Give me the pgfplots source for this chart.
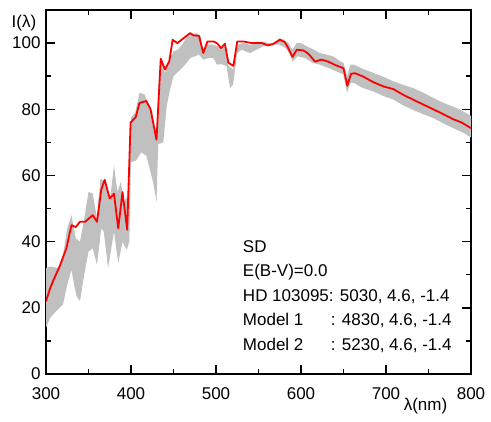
\documentclass[border=0pt]{standalone}
\usepackage{pgfplots}
\pgfplotsset{compat=1.18}
\usepgfplotslibrary{fillbetween}
\usepackage{fontspec}
\setmainfont{Liberation Sans}
\definecolor{bandgray}{RGB}{192,192,192}
\begin{document}
\begin{tikzpicture}
\begin{axis}[
  scale only axis, width=425pt, height=364pt,
  xmin=300, xmax=800, ymin=0, ymax=110,
  xtick={300,400,...,800}, minor xtick={350,450,...,750},
  ytick={0,20,...,100}, minor ytick={10,30,...,90},
  tick align=inside, major tick length=9pt, minor tick length=5pt,
  axis line style={line width=1.5pt},
  tick style={line width=1.5pt, black},
  /pgf/number format/assume math mode=true,
  tick label style={font=\fontsize{17}{17}\selectfont},
  xticklabel style={yshift=-10pt},
  yticklabel style={xshift=-2pt},
  clip mode=individual,
]
\addplot[name path=up, draw=none, forget plot] coordinates {
(300,32)(305,32.5)(315,32)(320,36)(325,44)(330,48)(335,41)(340,40)(345,47)(350,55)(355,54.5)(360,47)(364,59)(370,58)(375,52)(380,63)(384,55)(388,58)(392,52)(396,54)(398,60)(400,77.5)(405,79)(410,85)(416,84.5)(420,82)(425,79)(430,72)(433,90)(436,95)(440,91)(445,95)(450,97.5)(455,98)(460,99.5)(465,101.5)(470,102.5)(477,103)(482,102)(485,96.5)(490,99.5)(497,99.5)(502,99)(507,98.5)(511,99)(515,93)(520,92)(525,99.5)(532,100)(540,99.5)(550,100)(555,100.5)(562,100)(568,100)(575,101.5)(580,101)(585,100)(590,98)(595,100)(600,100)(607,99)(615,98)(622,97)(630,96.5)(638,96)(646,94.5)(650,94)(654,90)(658,93.5)(662,93.5)(672,92.3)(685,91)(697,89.8)(709,88.4)(720,87.4)(732,86.4)(744,85)(756,83.4)(767,82)(779,80.8)(790,79.5)(800,78)
};
\addplot[name path=lo, draw=none, forget plot] coordinates {
(300,14)(305,17)(312,19)(320,21)(325,27)(330,31.5)(333,27)(336,23.5)(340,22)(345,30)(350,37)(355,38)(360,33)(365,44)(368,43)(373,32)(380,43)(385,33.5)(390,40)(395,37.5)(398,40)(400,64)(406,64.5)(412,67)(418,66)(422,62)(426,58)(430,52)(432,69.5)(438,70)(442,81)(446,86)(450,90)(456,91.5)(462,93)(470,95.5)(480,96.5)(485,95)(492,95.5)(497,95.5)(501,93.5)(507,93.6)(512.5,93)(516.5,86.4)(520,87.4)(525,97)(530,98)(540,97)(548,98)(555,99)(565,99.5)(575,99.5)(582,98.5)(586,97)(590,94.5)(596,96)(605,95.5)(614,94)(622,93.5)(632,92.5)(642,91.4)(650,90.5)(654,85)(658,88)(662,88)(672,86.5)(685,85.4)(697,84)(709,82.9)(720,81.2)(732,79.8)(744,78.5)(756,77.3)(767,75.8)(779,74.3)(790,73)(800,71.5)
};
\addplot[fill=bandgray, draw=none] fill between[of=up and lo];
\addplot[red, line width=1.8pt, line join=round] coordinates {
(300,22)(305,26)(309,28.5)(316,32.5)(324,38)(330,45)(335,44.4)(340,46)(346,46)(355,48)(360,46)(365,55.7)(369,58.7)(375,53)(380,54.5)(385,44)(390,55)(395.5,43.6)(399.5,76)(405.5,77.6)(410,81.9)(418,82.5)(423,80)(430,70.8)(435,95.3)(440,92)(445,94.5)(449,101)(454.5,100)(469.5,103)(474,102.3)(480,102.2)(485,97)(490,100.5)(497,100.5)(501,100)(506,98.5)(510.5,99.8)(514.5,94.1)(520.5,93.1)(525,100.5)(532,100.5)(542,100)(554,100)(561,99.3)(567,99.7)(575,101)(581,100.3)(585,98.5)(590,95.8)(595,98)(602.7,97.8)(607.4,97)(611.4,96)(616.5,94.4)(624,95)(632,94.4)(640,93.4)(650,92.4)(654.5,87.1)(658.8,90.7)(663.5,90.9)(673,89.9)(685,88.2)(697,86.9)(708.6,86.1)(720,84.4)(732,82.9)(744,81.4)(755.6,80)(767.4,78.5)(779,77)(789,76)(800,74.3)
};
\node[font=\fontsize{17}{17}\selectfont] at (rel axis cs:-0.052,0.965) {I(λ)};
\node[font=\fontsize{17}{17}\selectfont] at (rel axis cs:0.893,-0.087) {λ(nm)};
\node[anchor=north west, align=left, inner sep=0pt, font=\fontsize{17}{24.5}\selectfont] at (axis cs:531.5,40.5) {SD\\E(B-V)=0.0\\HD 103095: 5030, 4.6, -1.4\\\makebox[88pt][l]{Model 1}: 4830, 4.6, -1.4\\\makebox[88pt][l]{Model 2}: 5230, 4.6, -1.4};
\end{axis}
\path (current axis.south west) ++(-46pt,-47pt) coordinate (bbA);
\path (current axis.north east) ++(20pt,10pt) coordinate (bbB);
\path (bbA) rectangle (bbB);
\end{tikzpicture}
\end{document}
